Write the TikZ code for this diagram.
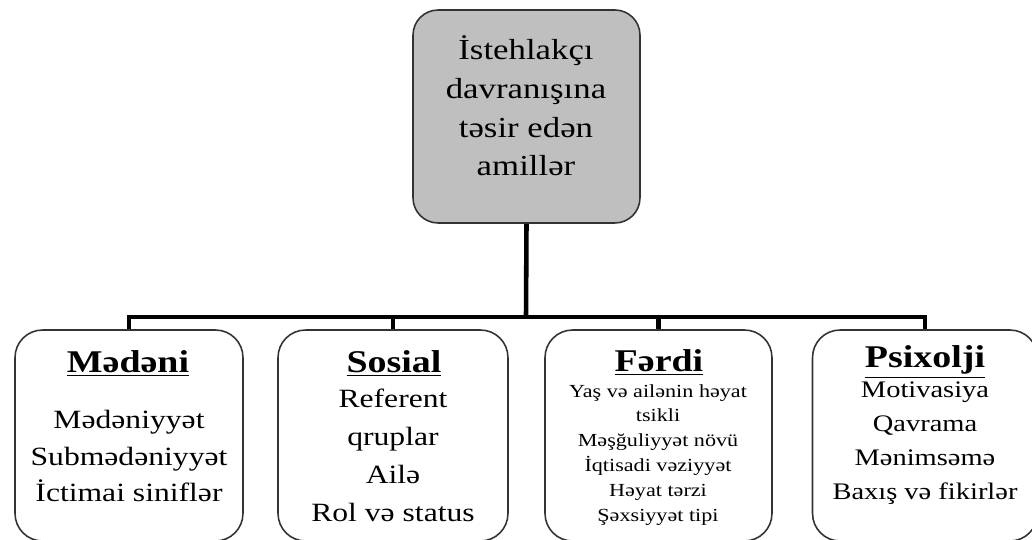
\documentclass[tikz,border=0pt]{standalone}
\usepackage{fontspec}
\setmainfont[FakeStretch=1.2]{Liberation Serif}

\begin{document}
\begin{tikzpicture}[x=0.02cm, y=-0.02cm,
  topbox/.style={draw=black!80, line width=0.9pt, fill=black!25, rounded corners=0.5cm, minimum width=4.54cm, minimum height=4.26cm, inner sep=0pt},
  catbox/.style={draw=black!80, line width=0.9pt, rounded corners=0.55cm, minimum height=4.22cm, inner sep=0pt},
  link/.style={line width=2.6pt},
  head/.style={anchor=base, inner sep=0pt, font={\fontsize{18}{22}\selectfont\bfseries}},
  items/.style={align=center, inner sep=0pt}]
  \useasboundingbox (0,0) rectangle (1032,540);
  \node[topbox] (top) at (526.5,116.5) {};
  \node[items, font={\fontsize{16.5}{22}\selectfont}] (toptext) at (526,106) {İstehlakçı\\davranışına\\təsir edən\\amillər};
  \node[catbox, minimum width=4.56cm] (madeni) at (129,435.5) {};
  \node[catbox, minimum width=4.6cm] (sosial) at (393,435.5) {};
  \node[catbox, minimum width=4.54cm] (ferdi) at (658.5,435.5) {};
  \node[catbox, minimum width=4.5cm] (psixolji) at (925,435.5) {};
  \coordinate (hub) at (526,317);
  \draw[link] (top.south) -- (hub);
  \draw[link] (madeni.north) |- (hub);
  \draw[link] (sosial.north) |- (hub);
  \draw[link] (ferdi.north) |- (hub);
  \draw[link] (psixolji.north) |- (hub);
  \node[head] (madenihead) at (128,373) {\underline{Mədəni}};
  \node[head] (sosialhead) at (394,373) {\underline{Sosial}};
  \node[head] (ferdihead) at (659,372) {\underline{Fərdi}};
  \node[head] (psixoljihead) at (925,368) {\underline{Psixolji}};
  \node[items, font={\fontsize{15}{21}\selectfont}] (madeniitems) at (129,456) {Mədəniyyət\\Submədəniyyət\\İctimai siniflər};
  \node[items, font={\fontsize{15}{21.6}\selectfont}] (sosialitems) at (393,455) {Referent\\qruplar\\Ailə\\Rol və status};
  \node[items, font={\fontsize{10.5}{14.2}\selectfont}] (ferdiitems) at (658,455) {Yaş və ailənin həyat\\tsikli\\Məşğuliyyət növü\hspace*{0.56cm}\\İqtisadi vəziyyət\\Həyat tərzi\\Şəxsiyyət tipi};
  \node[items, font={\fontsize{13.5}{19.3}\selectfont}] (psixoljiitems) at (925,443) {Motivasiya\\Qavrama\\Mənimsəmə\\Baxış və fikirlər};
\end{tikzpicture}
\end{document}
